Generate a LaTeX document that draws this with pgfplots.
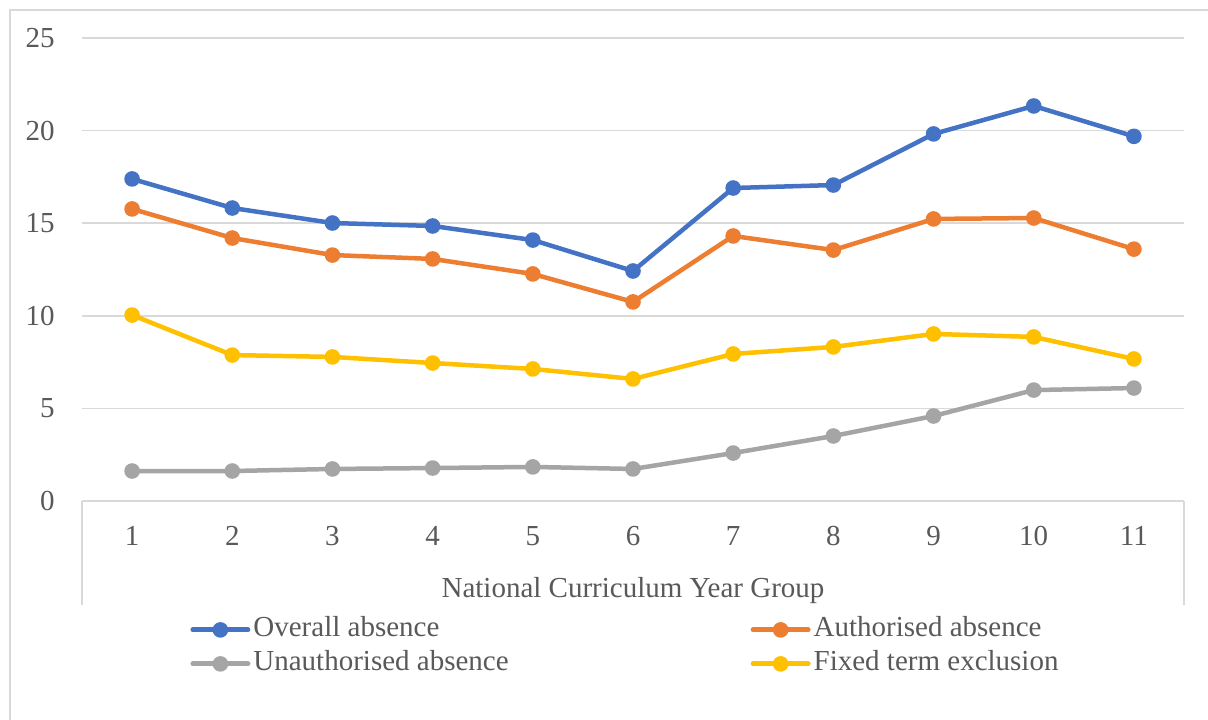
\documentclass[border=0pt]{standalone}
\usepackage{pgfplots}
\pgfplotsset{compat=1.18}
\usepackage{fontspec}
\setmainfont{Liberation Serif}
\definecolor{cblue}{HTML}{4472C4}
\definecolor{corange}{HTML}{ED7D31}
\definecolor{cgray}{HTML}{A5A5A5}
\definecolor{cyellow}{HTML}{FFC000}
\definecolor{txt}{HTML}{595959}
\definecolor{gridc}{HTML}{D9D9D9}
\begin{document}
\begin{tikzpicture}[x=1pt,y=1pt]
\useasboundingbox (0,0) rectangle (604,359.5);
\fill[white] (0,0) rectangle (604,359.5);
\draw[gridc,line width=0.8pt] (4.9,-5) -- (4.9,354.6) -- (615,354.6);
\begin{axis}[
  at={(41pt,109pt)}, anchor=south west,
  scale only axis, width=551pt, height=231.5pt,
  xmin=0.5, xmax=11.5, ymin=0, ymax=25,
  xtick={1,...,11}, ytick={0,5,...,25},
  axis line style={draw=none},
  major tick length=0pt,
  ymajorgrids, grid style={gridc,line width=0.8pt},
  font=\fontsize{14.5}{17}\selectfont\color{txt},
  /pgf/number format/assume math mode=true,
  xticklabel style={anchor=base, yshift=-22pt, inner sep=0pt},
  yticklabel style={anchor=east, xshift=-13.5pt, inner sep=0pt},
  xlabel={National Curriculum Year Group},
  xlabel style={at={(rel axis cs:0.5,0)}, anchor=center, yshift=-45pt},
  every axis plot/.append style={line width=2.25pt, line cap=round, line join=round, mark=*, mark size=3.4pt, mark options={solid, line width=1pt}},
  legend columns=2,
  legend cell align=left,
  legend style={draw=none, fill=none, at={(rel axis cs:0.098,-0.2408)}, anchor=north west, inner sep=0pt,
    nodes={inner sep=1.5pt, text height=10.5pt, text depth=3.5pt, text=txt},
    /tikz/column sep=0pt,
    /tikz/column 2/.style={column sep=119.5pt},
    font=\fontsize{14.5}{17}\selectfont},
  legend image code/.code={\draw[#1, mark=none, line width=2.5pt, line cap=round] (0pt,0pt) -- (27.5pt,0pt); \draw[#1] plot coordinates {(13.75pt,0pt)}; },
]
\addplot[cblue] coordinates {(1,17.39) (2,15.82) (3,15.01) (4,14.85) (5,14.09) (6,12.42) (7,16.90) (8,17.06) (9,19.82) (10,21.33) (11,19.69)};
\addlegendentry{Overall absence}
\addplot[corange] coordinates {(1,15.77) (2,14.20) (3,13.28) (4,13.07) (5,12.26) (6,10.75) (7,14.31) (8,13.55) (9,15.23) (10,15.28) (11,13.60)};
\addlegendentry{Authorised absence}
\addplot[cgray] coordinates {(1,1.62) (2,1.62) (3,1.73) (4,1.78) (5,1.84) (6,1.73) (7,2.59) (8,3.51) (9,4.59) (10,5.99) (11,6.10)};
\addlegendentry{Unauthorised absence}
\addplot[cyellow] coordinates {(1,10.04) (2,7.88) (3,7.78) (4,7.45) (5,7.13) (6,6.59) (7,7.94) (8,8.32) (9,9.02) (10,8.86) (11,7.67)};
\addlegendentry{Fixed term exclusion}
\end{axis}
\draw[gridc,line width=0.8pt] (41,109) -- (41,57);
\draw[gridc,line width=0.8pt] (592,109) -- (592,57);
\end{tikzpicture}
\end{document}
